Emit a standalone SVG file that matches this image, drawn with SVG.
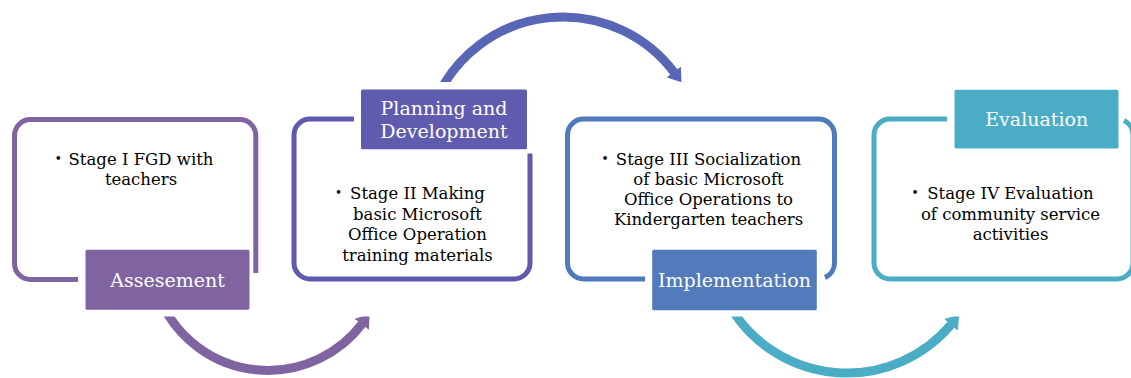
<svg xmlns="http://www.w3.org/2000/svg" width="1131" height="378" viewBox="0 0 1131 378">
<style>
.frame{fill:none;stroke-width:5;stroke-linecap:butt;stroke-linejoin:round}
.arc{fill:none;stroke-width:9;stroke-linecap:butt}
.lbl{stroke:#ffffff;stroke-width:3}
.lt{font-family:"DejaVu Serif","Liberation Serif",serif;font-size:19px;fill:#ffffff;text-anchor:middle}
.bt{font-family:"DejaVu Serif","Liberation Serif",serif;font-size:16.5px;fill:#000000;text-anchor:middle}
.bu{font-family:"DejaVu Serif","Liberation Serif",serif;font-size:12px;fill:#000000;text-anchor:middle}
</style>
<defs>
<marker id="ahP" viewBox="0 -9 13 18" refX="0.5" refY="0" markerWidth="13" markerHeight="18" markerUnits="userSpaceOnUse" orient="auto"><path d="M0,-9 L13,0 L0,9 Z" fill="#8064A2"/></marker>
<marker id="ahI" viewBox="0 -9 13 18" refX="0.5" refY="0" markerWidth="13" markerHeight="18" markerUnits="userSpaceOnUse" orient="auto"><path d="M0,-9 L13,0 L0,9 Z" fill="#5866B6"/></marker>
<marker id="ahT" viewBox="0 -9 13 18" refX="0.5" refY="0" markerWidth="13" markerHeight="18" markerUnits="userSpaceOnUse" orient="auto"><path d="M0,-9 L13,0 L0,9 Z" fill="#4BACC6"/></marker>
<clipPath id="clipBottom"><rect x="0" y="316.5" width="1131" height="62"/></clipPath>
<clipPath id="clipTop"><rect x="0" y="0" width="1131" height="82"/></clipPath>
</defs>
<rect x="0" y="0" width="1131" height="378" fill="#ffffff"/>

<g id="connectors">
<path class="arc" stroke="#8064A2" clip-path="url(#clipBottom)" d="M162.6,305 A118,118 0 0 0 362,324" marker-end="url(#ahP)"/>
<path class="arc" stroke="#5866B6" clip-path="url(#clipTop)" d="M438.1,95 A139,139 0 0 1 674,72.3" marker-end="url(#ahI)"/>
<path class="arc" stroke="#4BACC6" clip-path="url(#clipBottom)" d="M729.2,305 A136,136 0 0 0 951.2,324.4" marker-end="url(#ahT)"/>
</g>

<g id="node-assesement">
<path class="frame" stroke="#8064A2" d="M78,279.5 H30.5 A16,16 0 0 1 14.5,263.5 V135.5 A16,16 0 0 1 30.5,119.5 H239.8 A16,16 0 0 1 255.8,135.5 V273"/>
<text class="bu" x="58.3" y="162.6">•</text>
<text class="bt" x="141" y="165">Stage I FGD with</text>
<text class="bt" x="141" y="185">teachers</text>
<rect class="lbl" x="84" y="248.3" width="167" height="63" rx="3" fill="#8064A2"/>
<text class="lt" x="167.5" y="287">Assesement</text>
</g>

<g id="node-planning">
<path class="frame" stroke="#5F5AAD" d="M354,119 H310 A16,16 0 0 0 294,135 V263 A16,16 0 0 0 310,279 H514 A16,16 0 0 0 530,263 V153.5"/>
<text class="bu" x="338.5" y="196.8">•</text>
<text class="bt" x="417.5" y="199.2">Stage II Making</text>
<text class="bt" x="417.5" y="219.7">basic Microsoft</text>
<text class="bt" x="417.5" y="240.2">Office Operation</text>
<text class="bt" x="417.5" y="260.7">training materials</text>
<rect class="lbl" x="359.5" y="88" width="169" height="62.7" rx="3" fill="#5F5BAE"/>
<text class="lt" x="444" y="115">Planning and</text>
<text class="lt" x="444" y="137.5">Development</text>
</g>

<g id="node-implementation">
<path class="frame" stroke="#4F7BBD" d="M645,279 H583.5 A16,16 0 0 1 567.5,263 V135 A16,16 0 0 1 583.5,119 H818.5 A16,16 0 0 1 834.5,135 V263 A16,16 0 0 1 825,277.6"/>
<text class="bu" x="605" y="162.6">•</text>
<text class="bt" x="708.5" y="165">Stage III Socialization</text>
<text class="bt" x="708.5" y="185">of basic Microsoft</text>
<text class="bt" x="708.5" y="205">Office Operations to</text>
<text class="bt" x="708.5" y="225">Kindergarten teachers</text>
<rect class="lbl" x="650.7" y="248.3" width="167.6" height="63.4" rx="3" fill="#527BBC"/>
<text class="lt" x="734.5" y="287">Implementation</text>
</g>

<g id="node-evaluation">
<path class="frame" stroke="#4BACC6" d="M947,119 H890 A16,16 0 0 0 874,135 V263 A16,16 0 0 0 890,279 H1117 A16,16 0 0 0 1133,263 V135 A16,16 0 0 0 1124,120.6"/>
<text class="bu" x="915" y="196.6">•</text>
<text class="bt" x="1010.5" y="199">Stage IV Evaluation</text>
<text class="bt" x="1010.5" y="219.5">of community service</text>
<text class="bt" x="1010.5" y="240">activities</text>
<rect class="lbl" x="953" y="88.3" width="167" height="61.7" rx="3" fill="#4BACC6"/>
<text class="lt" x="1036.7" y="125.7">Evaluation</text>
</g>
</svg>
